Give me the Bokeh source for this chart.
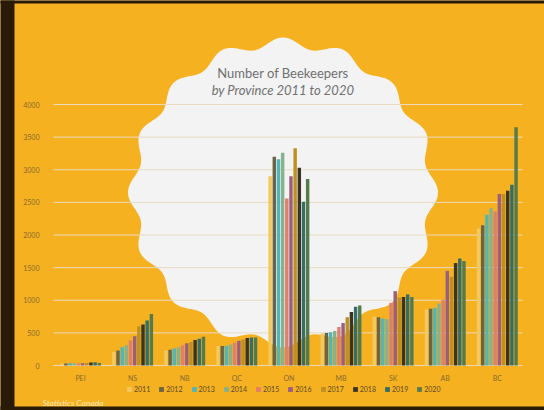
import numpy as np
from bokeh.plotting import figure
from bokeh.models import (ColumnDataSource, FixedTicker, Label, Legend, LegendItem, Range1d)
from bokeh.embed import file_html
from bokeh.resources import INLINE

provinces = ["PEI", "NS", "NB", "QC", "ON", "MB", "SK", "AB", "BC"]
years = ["2011", "2012", "2013", "2014", "2015", "2016", "2017", "2018", "2019", "2020"]

v2011 = [30, 210, 230, 300, 2900, 490, 750, 860, 2100]
v2012 = [30, 230, 240, 300, 3200, 500, 740, 870, 2150]
v2013 = [35, 280, 260, 300, 3160, 510, 720, 880, 2310]
v2014 = [30, 310, 280, 320, 3260, 530, 710, 950, 2410]
v2015 = [30, 385, 310, 350, 2560, 590, 960, 1010, 2360]
v2016 = [35, 450, 340, 380, 2900, 650, 1140, 1450, 2630]
v2017 = [40, 600, 360, 400, 3330, 740, 1040, 1360, 2630]
v2018 = [45, 630, 390, 420, 3030, 820, 1050, 1570, 2680]
v2019 = [50, 690, 410, 430, 2510, 900, 1090, 1640, 2770]
v2020 = [40, 790, 440, 430, 2860, 920, 1050, 1600, 3650]
series = [v2011, v2012, v2013, v2014, v2015, v2016, v2017, v2018, v2019, v2020]

colors = ["#F3C95E", "#6B6446", "#52B5B8", "#86B28E", "#E07F6A",
          "#9A5E80", "#BE9020", "#3B3424", "#356E64", "#557A4E"]

y_ticks = [0, 500, 1000, 1500, 2000, 2500, 3000, 3500, 4000]

ORANGE = "#F5B120"
DARK = "#2A1A08"
W, H = 544, 410
# pixel layout helpers (canvas px -> data)
PX0, PXX = 80.0, 52.1      # x of first category, px per category
PY0, PXY = 365.0, 0.06525  # y of zero line, px per unit


def dx(px):
    return (px - PX0) / PXX


def dy(py):
    return (PY0 - py) / PXY


p = figure(width=W, height=H, x_range=Range1d(dx(0), dx(W)), y_range=Range1d(dy(H), dy(0)),
           output_backend="svg", toolbar_location=None, min_border=0)
p.background_fill_color = ORANGE
p.border_fill_color = ORANGE
p.outline_line_color = None

# decorative scalloped cloud
cxp, cyp = 282.5, 192.0
R, A, n = 150, 5, 16
th = np.linspace(0, 2 * np.pi, 721)
r = R + A * np.cos(n * (th - np.pi / 2))
p.patch(dx(cxp + r * np.cos(th)), dy(cyp - r * np.sin(th)),
        fill_color="#F3F3F3", line_color=None, level="image")

# gridlines
p.xgrid.grid_line_color = None
p.ygrid.grid_line_color = None
p.segment(x0=[dx(53)] * len(y_ticks), x1=[dx(522)] * len(y_ticks), y0=y_ticks, y1=y_ticks,
          line_color="#EADBC0", line_width=1, level="underlay")

xi = np.arange(len(provinces))
items = []
bw = 0.08
for i, (yr, vals, c) in enumerate(zip(years, series, colors)):
    src = ColumnDataSource(dict(x=xi + (i - 4.5) * bw, top=vals))
    rr = p.vbar(x="x", top="top", width=0.066, bottom=0, source=src,
                fill_color=c, line_color=None)
    items.append(LegendItem(label=yr, renderers=[rr]))

# axes (drawn inside the frame)
p.xaxis.ticker = FixedTicker(ticks=list(range(len(provinces))))
p.xaxis.major_label_overrides = {i: n_ for i, n_ in enumerate(provinces)}
p.xaxis.fixed_location = 0
p.yaxis.ticker = FixedTicker(ticks=y_ticks)
p.yaxis.fixed_location = dx(49)
for ax in (p.xaxis[0], p.yaxis[0]):
    ax.axis_line_color = None
    ax.major_tick_line_color = None
    ax.minor_tick_line_color = None
    ax.major_label_text_font = "Lato"
    ax.major_label_text_font_size = "7px"
    ax.major_label_text_color = "#8A6A30"
p.xaxis.major_label_standoff = 2
p.yaxis.major_label_standoff = 4

legend = Legend(items=items, orientation="horizontal", location=(124, 15),
                label_text_font="Lato", label_text_font_size="7px",
                label_text_color="#5A4A2A", glyph_width=6, glyph_height=6,
                label_standoff=2, label_width=12, spacing=8, padding=2, margin=0,
                background_fill_alpha=0, border_line_alpha=0,
                label_height=8)
p.add_layout(legend, "center")

p.add_layout(Label(x=dx(cxp), y=dy(72), text="Number of Beekeepers",
                   text_align="center", text_baseline="middle",
                   text_font="Lato", text_font_size="13px", text_color="#707070"))
p.add_layout(Label(x=dx(cxp), y=dy(89), text="by Province 2011 to 2020",
                   text_align="center", text_baseline="middle", text_font_style="italic",
                   text_font="Lato", text_font_size="13px", text_color="#707070"))
p.add_layout(Label(x=dx(42), y=dy(402), text="Statistics Canada",
                   text_align="left", text_baseline="middle", text_font_style="italic",
                   text_font="Lato", text_font_size="8.5px", text_color="#FBE7B0"))

# photo frame edges
p.quad(left=[dx(0), dx(0), dx(0)], right=[dx(14), dx(W), dx(W)],
       bottom=[dy(H), dy(3), dy(H)], top=[dy(0), dy(0), dy(406)],
       fill_color=DARK, line_color=None, level="overlay")

open("out.html", "w").write(file_html(p, INLINE))
